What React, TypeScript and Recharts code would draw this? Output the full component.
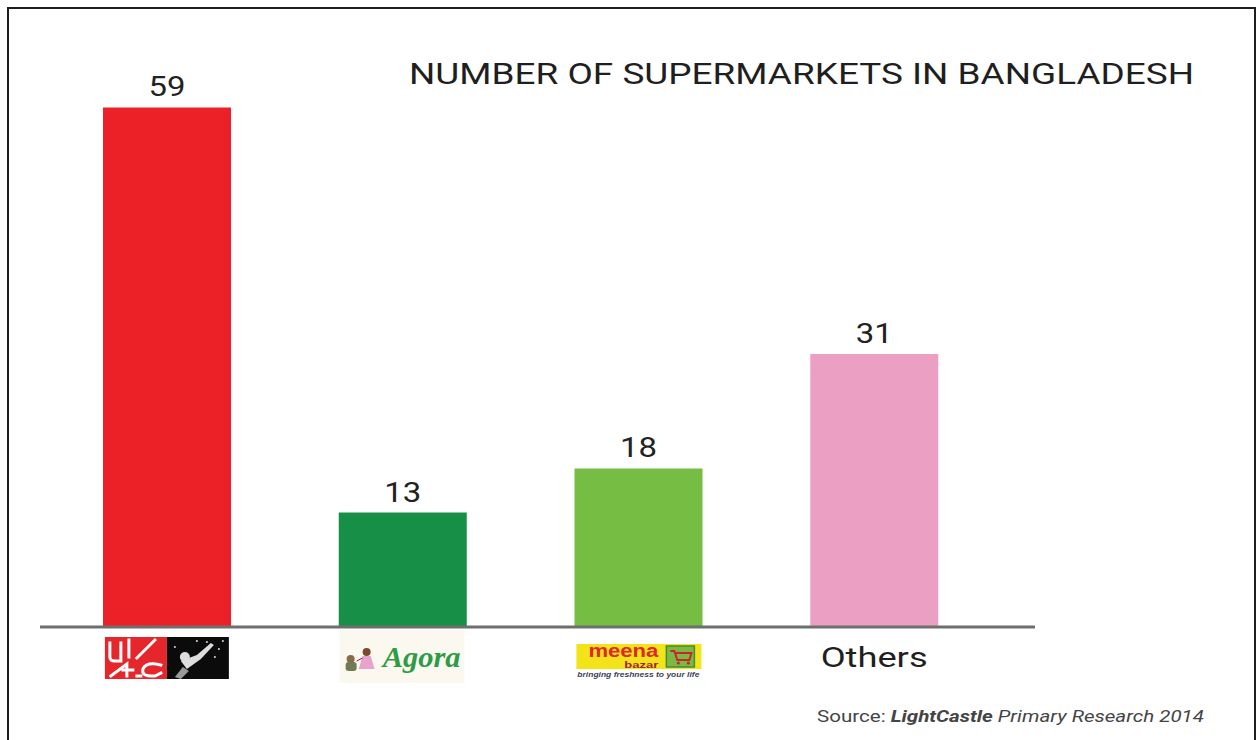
import React from 'react';
import { BarChart, Bar, XAxis, YAxis, Cell, LabelList } from 'recharts';

const categories = ['Shwapno', 'Agora', 'Meena Bazar', 'Others'];
const storeCounts = [59, 13, 18, 31];
const barColors = ['#EC2027', '#178F46', '#76BE43', '#EBA0C3'];
const titleText = 'NUMBER OF SUPERMARKETS IN BANGLADESH';
const sourceParts = ['Source: ', 'LightCastle', ' Primary Research 2014'];

const data = categories.map((name, i) => ({ name, value: storeCounts[i] }));

const FONT = 'Roboto, "Liberation Sans", Arial, sans-serif';

function LogoTick(props: any) {
  const { x, y, payload } = props;
  const v = payload?.value;
  if (v === 'Shwapno') {
    return (
      <g transform={`translate(${x},${y})`}>
        <rect x={-62} y={10} width={62} height={42} fill="#E5262B" />
        <rect x={0} y={10} width={62} height={42} fill="#0b0b0b" />
        <g stroke="#fff" strokeWidth={3} fill="none" strokeLinecap="square">
          <path d="M-57 16 L-57 30 Q-57 34 -52 34 L-46 34 L-46 16" />
          <path d="M-38 13 L-38 30" />
          <path d="M-30 31 L-12 13" />
          <path d="M-56 49 L-40 37 L-40 49" />
          <path d="M-44 43 L-34 43" />
          <path d="M-6 38 Q-20 34 -24 42 Q-26 50 -12 49 L-6 46" />
          <path d="M-30 49 L-26 49" />
        </g>
        <g fill="#ddd">
          <circle cx={18} cy={30} r={5} />
          <path d="M14 34 L30 28 L44 16 L47 18 L34 32 L20 42 Z" />
          <path d="M8 50 L16 40 L22 44 L14 52 Z" fill="#999" />
          <circle cx={40} cy={15} r={1} />
          <circle cx={52} cy={22} r={1} />
          <circle cx={30} cy={14} r={1} />
          <circle cx={56} cy={14} r={1} />
          <circle cx={48} cy={30} r={1} />
          <circle cx={8} cy={20} r={1} />
        </g>
      </g>
    );
  }
  if (v === 'Agora') {
    return (
      <g transform={`translate(${x},${y})`}>
        <rect x={-63} y={3} width={125} height={53} fill="#FBF9EF" />
        <circle cx={-52} cy={32} r={4} fill="#8a6a48" />
        <rect x={-57} y={35} width={11} height={9} rx={3} fill="#6f7b52" />
        <circle cx={-36} cy={25} r={4} fill="#7a4a2a" />
        <path d="M-40 29 L-32 29 L-28 42 L-44 42 Z" fill="#E7A4CB" />
        <path d="M-46 34 L-40 31" stroke="#b07" strokeWidth={1} />
        <text
          x={-20}
          y={40}
          fontFamily='"Liberation Serif", "DejaVu Serif", serif'
          fontWeight="bold"
          fontStyle="italic"
          fontSize={29}
          fill="#2F9B46"
          textLength={78}
          lengthAdjust="spacingAndGlyphs"
        >
          Agora
        </text>
      </g>
    );
  }
  if (v === 'Meena Bazar') {
    return (
      <g transform={`translate(${x},${y})`}>
        <rect x={-62} y={17} width={125} height={25} fill="#F2E418" />
        <text x={-50} y={30} fontFamily='"Liberation Sans", Arial, sans-serif' fontWeight="bold" fontSize={18} fill="#E3262B" textLength={70} lengthAdjust="spacingAndGlyphs">meena</text>
        <text x={20} y={41} textAnchor="end" fontFamily='"Liberation Sans", Arial, sans-serif' fontWeight="bold" fontSize={8.5} fill="#A3242A" textLength={34} lengthAdjust="spacingAndGlyphs">bazar</text>
        <rect x={28} y={19} width={28} height={21} fill="#7DB843" stroke="#3F8E35" strokeWidth={1.5} />
        <path d="M32 24 L36 24 L39 33 L51 33 L53 26 L37 26" stroke="#C9262B" strokeWidth={2} fill="none" />
        <circle cx={40} cy={36} r={1.6} fill="#C9262B" />
        <circle cx={50} cy={36} r={1.6} fill="#C9262B" />
        <text x={-61} y={50} fontFamily='"Liberation Sans", Arial, sans-serif' fontStyle="italic" fontWeight="bold" fontSize={7.5} fill="#3a3f5a" textLength={122} lengthAdjust="spacingAndGlyphs">bringing freshness to your life</text>
      </g>
    );
  }
  return (
    <g transform={`translate(${x},${y})`}>
      <text x={0} y={40} textAnchor="middle" fontFamily={FONT} fontSize={28} fill="#1f1f1f" textLength={107} lengthAdjust="spacingAndGlyphs">
        {v}
      </text>
    </g>
  );
}

function ValueLabel(props: any) {
  const x = Number(props.x);
  const y = Number(props.y);
  const w = Number(props.width);
  return (
    <text
      x={x + w / 2}
      y={y - 11}
      textAnchor="middle"
      fontFamily={FONT}
      fontSize={28}
      fill="#222"
      textLength={37}
      lengthAdjust="spacingAndGlyphs"
    >
      {props.value}
    </text>
  );
}

export default function App() {
  return (
    <div style={{ position: 'absolute', left: 0, top: 0, width: 1257, height: 740, background: '#fff', overflow: 'hidden' }}>
      <div
        style={{
          position: 'absolute',
          left: 7,
          top: 7,
          width: 1245,
          height: 760,
          borderLeft: '2px solid #1e1e1e',
          borderTop: '2px solid #1e1e1e',
          borderRight: '2px solid #1e1e1e',
        }}
      />
      <BarChart
        width={1257}
        height={740}
        data={data}
        margin={{ top: 81, right: 222, bottom: 53, left: 40 }}
        barCategoryGap={0}
      >
        <XAxis
          dataKey="name"
          height={60}
          axisLine={{ stroke: '#6E6E6E', strokeWidth: 3 }}
          tickLine={false}
          tickSize={0}
          tickMargin={0}
          interval={0}
          padding={{ left: 9, right: 43 }}
          tick={<LogoTick />}
        />
        <YAxis hide domain={[0, 62]} />
        <Bar dataKey="value" barSize={128} isAnimationActive={false}>
          {data.map((d, i) => (
            <Cell key={d.name} fill={barColors[i]} />
          ))}
          <LabelList dataKey="value" content={ValueLabel} />
        </Bar>
      </BarChart>
      <svg width={1257} height={740} style={{ position: 'absolute', left: 0, top: 0, pointerEvents: 'none' }}>
        <text x={409} y={84} fontFamily={FONT} fontSize={30} fill="#1f1f1f" textLength={785} lengthAdjust="spacingAndGlyphs">
          {titleText}
        </text>
        <text x={817} y={722} fontFamily={FONT} fontSize={17} fill="#444" textLength={387} lengthAdjust="spacingAndGlyphs">
          <tspan>{sourceParts[0]}</tspan>
          <tspan fontWeight="bold" fontStyle="italic">{sourceParts[1]}</tspan>
          <tspan fontStyle="italic">{sourceParts[2]}</tspan>
        </text>
      </svg>
    </div>
  );
}
